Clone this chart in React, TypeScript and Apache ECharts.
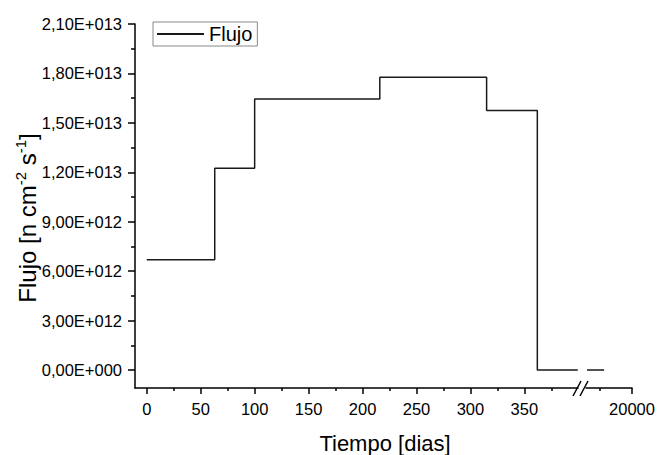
import React, { useEffect, useRef } from "react";
import * as echarts from "echarts";

// ---- data ----
const stepDays = [0, 63, 100, 216, 315, 362, 399.5];
const fluxValues = [6.7e12, 1.224e13, 1.645e13, 1.777e13, 1.575e13, 0, 0];
const tailDays = [19305, 19570];
const tailValues = [0, 0];

const xTickValues = [0, 50, 100, 150, 200, 250, 300, 350];
const xMinorValues = [25, 75, 125, 175, 225, 275, 325, 375];
const xTickValues2 = [20000];
const xMinorValues2 = [19500];
const yTickValues = [0, 3e12, 6e12, 9e12, 1.2e13, 1.5e13, 1.8e13, 2.1e13];
const yMinorValues = [1.5e12, 4.5e12, 7.5e12, 1.05e13, 1.35e13, 1.65e13, 1.95e13];

const FONT = "'Liberation Sans', Arial, Helvetica, sans-serif";
const AX = "#000";

function sci(v: number): string {
  if (v === 0) return "0,00E+000";
  const e = Math.floor(Math.log10(Math.abs(v)) + 1e-9);
  const m = v / Math.pow(10, e);
  const s = e >= 0 ? "+" : "-";
  return m.toFixed(2).replace(".", ",") + "E" + s + String(Math.abs(e)).padStart(3, "0");
}

export default function App() {
  const ref = useRef<HTMLDivElement>(null);
  useEffect(() => {
    if (!ref.current) return;
    const chart = echarts.init(ref.current, null, { renderer: "svg" });
    const axisLine = { show: true, onZero: false, lineStyle: { color: AX, width: 1.5 } };
    const hiddenLine = { show: false, onZero: false };
    const yMin = -1.09e12;
    const yMax = 2.1e13;
    const plain = (v: number) => String(v);
    const LBL = 16.5;
    chart.setOption({
      animation: false,
      backgroundColor: "#fff",
      textStyle: { fontFamily: FONT },
      legend: {
        left: 153,
        top: 22,
        padding: [2, 5, 2, 3],
        borderColor: "#888",
        borderWidth: 1,
        itemWidth: 47,
        itemHeight: 14,
        itemStyle: { color: "transparent", borderColor: "transparent", borderWidth: 0 },
        textStyle: { fontSize: 20, color: "#000", fontFamily: FONT },
        data: ["Flujo"],
      },
      grid: [
        { left: 135, top: 24, width: 443, height: 364, outerBoundsMode: "none" },
        { left: 586, top: 24, width: 46, height: 364, outerBoundsMode: "none" },
      ],
      xAxis: [
        {
          gridIndex: 0, type: "value", position: "bottom", min: -10.9, max: 399.7,
          axisLine,
          axisTick: { show: true, customValues: xTickValues, length: 6, lineStyle: { color: AX, width: 1.5 } },
          axisLabel: { show: true, customValues: xTickValues, formatter: plain, fontSize: LBL, color: "#000", margin: 12, fontFamily: FONT },
          splitLine: { show: false },
        },
        {
          gridIndex: 0, type: "value", position: "bottom", min: -10.9, max: 399.7,
          axisLine: hiddenLine,
          axisTick: { show: true, customValues: xMinorValues, length: 3, lineStyle: { color: AX, width: 1.5 } },
          axisLabel: { show: false },
          splitLine: { show: false },
        },
        {
          gridIndex: 1, type: "value", position: "bottom", min: 19290, max: 20000,
          axisLine,
          axisTick: { show: true, customValues: xTickValues2, length: 6, lineStyle: { color: AX, width: 1.5 } },
          axisLabel: { show: true, customValues: xTickValues2, formatter: plain, fontSize: LBL, color: "#000", margin: 12, fontFamily: FONT },
          splitLine: { show: false },
        },
        {
          gridIndex: 1, type: "value", position: "bottom", min: 19290, max: 20000,
          axisLine: hiddenLine,
          axisTick: { show: true, customValues: xMinorValues2, length: 3, lineStyle: { color: AX, width: 1.5 } },
          axisLabel: { show: false },
          splitLine: { show: false },
        },
      ],
      yAxis: [
        {
          gridIndex: 0, type: "value", position: "left", min: yMin, max: yMax,
          axisLine,
          axisTick: { show: true, customValues: yTickValues, length: 7, lineStyle: { color: AX, width: 1.5 } },
          axisLabel: { show: true, customValues: yTickValues, formatter: (v: number) => sci(v), fontSize: LBL, color: "#000", margin: 13, fontFamily: FONT },
          splitLine: { show: false },
        },
        {
          gridIndex: 0, type: "value", position: "left", min: yMin, max: yMax,
          axisLine: hiddenLine,
          axisTick: { show: true, customValues: yMinorValues, length: 4, lineStyle: { color: AX, width: 1.5 } },
          axisLabel: { show: false },
          splitLine: { show: false },
        },
        {
          gridIndex: 1, type: "value", show: false, min: yMin, max: yMax,
          axisLine: hiddenLine, splitLine: { show: false },
        },
      ],
      series: [
        {
          name: "Flujo", type: "line", xAxisIndex: 0, yAxisIndex: 0, step: "end",
          symbol: "none", lineStyle: { color: "#1a1a1a", width: 1.5 }, itemStyle: { color: "#1a1a1a" },
          data: stepDays.map((d, i) => [d, fluxValues[i]]),
        },
        {
          name: "Flujo", type: "line", xAxisIndex: 2, yAxisIndex: 2,
          symbol: "none", lineStyle: { color: "#1a1a1a", width: 1.5 }, itemStyle: { color: "#1a1a1a" },
          data: tailDays.map((d, i) => [d, tailValues[i]]),
        },
      ],
      graphic: [
        { type: "line", shape: { x1: 573, y1: 396, x2: 581, y2: 381 }, style: { stroke: AX, lineWidth: 1.5 } },
        { type: "line", shape: { x1: 580, y1: 396, x2: 588, y2: 381 }, style: { stroke: AX, lineWidth: 1.5 } },
        {
          type: "text", x: 385, y: 443,
          style: { text: "Tiempo [dias]", font: `22px ${FONT}`, fill: "#000", align: "center", verticalAlign: "middle" },
        },
        {
          type: "text", x: 27, y: 218, rotation: Math.PI / 2,
          style: {
            text: "{a|Flujo [n cm}{s|-2}{a| s}{s|-1}{a|]}",
            align: "center", verticalAlign: "middle", fill: "#000",
            rich: {
              a: { fontSize: 24, fontFamily: FONT, lineHeight: 28, fill: "#000" },
              s: { fontSize: 15, fontFamily: FONT, verticalAlign: "top", lineHeight: 16, fill: "#000" },
            },
          },
        },
      ],
    });
    return () => chart.dispose();
  }, []);
  return <div ref={ref} style={{ position: "fixed", left: 0, top: 0, width: 660, height: 455 }} />;
}
